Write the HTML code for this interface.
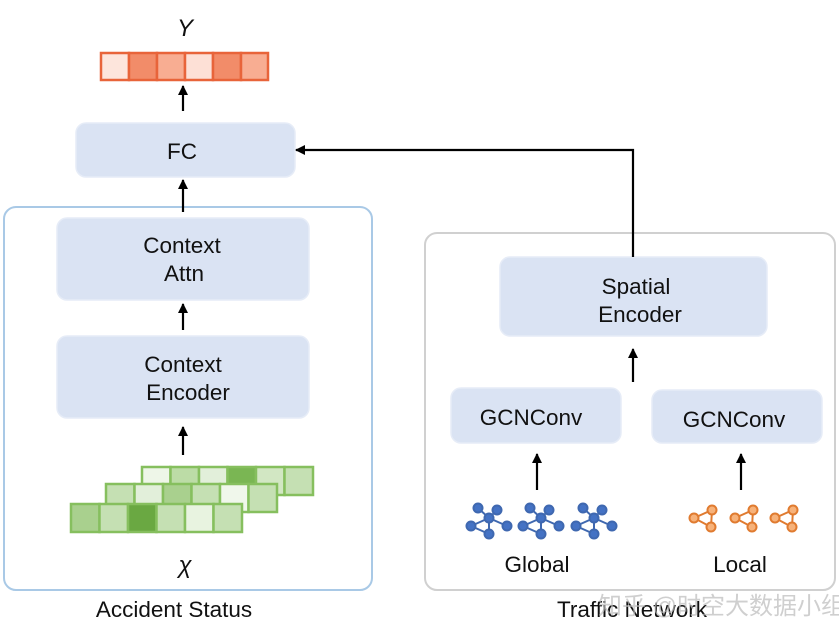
<!DOCTYPE html>
<html><head><meta charset="utf-8"><style>
html,body{margin:0;padding:0;background:#fff;}
svg{display:block;}
text{font-family:"Liberation Sans","Noto Sans CJK SC",sans-serif;fill:#111;}
</style></head><body>
<svg width="839" height="640" viewBox="0 0 839 640" xmlns="http://www.w3.org/2000/svg">
<defs>
<marker id="ah" markerWidth="10" markerHeight="10" refX="9" refY="5" orient="auto" markerUnits="userSpaceOnUse">
<path d="M0,0 L10,5 L0,10 Z" fill="#000"/></marker>
</defs>
<rect x="4" y="207" width="368" height="383" rx="12" fill="#fff" stroke="#a9c9e6" stroke-width="2"/>
<rect x="425" y="233" width="410" height="357" rx="12" fill="#fff" stroke="#d0d0d0" stroke-width="2"/>
<text x="185" y="36" font-size="24" font-style="italic" text-anchor="middle" font-family="Liberation Serif">Y</text>
<g stroke="#e8643a" stroke-width="2.5">
<rect x="101" y="53" width="28" height="27" fill="#fde5dc"/>
<rect x="129" y="53" width="28" height="27" fill="#f28c69"/>
<rect x="157" y="53" width="28" height="27" fill="#f8ad92"/>
<rect x="185" y="53" width="28" height="27" fill="#fde0d6"/>
<rect x="213" y="53" width="28" height="27" fill="#f28c69"/>
<rect x="241" y="53" width="27" height="27" fill="#f8ad92"/>
</g>
<g fill="#dae3f3" stroke="#e6ecf7" stroke-width="1.5">
<rect x="76" y="123" width="219" height="54" rx="10"/>
<rect x="57" y="218" width="252" height="82" rx="10"/>
<rect x="57" y="336" width="252" height="82" rx="10"/>
<rect x="500" y="257" width="267" height="79" rx="10"/>
<rect x="451" y="388" width="170" height="55" rx="10"/>
<rect x="652" y="390" width="170" height="53" rx="10"/>
</g>
<g font-size="22.5" text-anchor="middle">
<text x="182" y="159">FC</text>
<text x="182" y="253">Context</text>
<text x="184" y="281">Attn</text>
<text x="183" y="372">Context</text>
<text x="188" y="400">Encoder</text>
<text x="636" y="294">Spatial</text>
<text x="640" y="322">Encoder</text>
<text x="531" y="425">GCNConv</text>
<text x="734" y="427">GCNConv</text>
<text x="537" y="572">Global</text>
<text x="740" y="572">Local</text>
<text x="174" y="617">Accident Status</text>
<text x="632" y="617">Traffic Network</text>
</g>
<text x="185" y="573" font-size="24" font-style="italic" text-anchor="middle" font-family="Liberation Serif">χ</text>
<text x="598" y="614" font-size="24" style="fill:#bbbbbb;opacity:0.7">知乎 @时空大数据小组</text>
<g stroke="#000" stroke-width="2.2" fill="none" marker-end="url(#ah)">
<line x1="183" y1="111" x2="183" y2="86"/>
<line x1="183" y1="212" x2="183" y2="180"/>
<line x1="183" y1="330" x2="183" y2="304"/>
<line x1="183" y1="455" x2="183" y2="427"/>
<line x1="633" y1="382" x2="633" y2="349"/>
<line x1="537" y1="490" x2="537" y2="454"/>
<line x1="741" y1="490" x2="741" y2="454"/>
<polyline points="633,257 633,150 296,150"/>
</g>
<g stroke="#86bf5e" stroke-width="2.5">
<rect x="142" y="467" width="28.5" height="28" fill="#eef6e8"/>
<rect x="170.5" y="467" width="28.5" height="28" fill="#bcdca6"/>
<rect x="199" y="467" width="28.5" height="28" fill="#e2efda"/>
<rect x="227.5" y="467" width="28.5" height="28" fill="#7ab653"/>
<rect x="256" y="467" width="28.5" height="28" fill="#d2e7c3"/>
<rect x="284.5" y="467" width="28.5" height="28" fill="#c5e0b3"/>
<rect x="106" y="484" width="28.5" height="28" fill="#c5e0b3"/>
<rect x="134.5" y="484" width="28.5" height="28" fill="#e2efda"/>
<rect x="163" y="484" width="28.5" height="28" fill="#a9d08e"/>
<rect x="191.5" y="484" width="28.5" height="28" fill="#c5e0b3"/>
<rect x="220" y="484" width="28.5" height="28" fill="#f0f7eb"/>
<rect x="248.5" y="484" width="28.5" height="28" fill="#c5e0b3"/>
<rect x="71" y="504" width="28.5" height="28" fill="#a9d08e"/>
<rect x="99.5" y="504" width="28.5" height="28" fill="#c5e0b3"/>
<rect x="128" y="504" width="28.5" height="28" fill="#6aa842"/>
<rect x="156.5" y="504" width="28.5" height="28" fill="#c5e0b3"/>
<rect x="185" y="504" width="28.5" height="28" fill="#e8f3e0"/>
<rect x="213.5" y="504" width="28.5" height="28" fill="#c5e0b3"/>
</g>
<g id="g1" stroke="#3f68b0" stroke-width="2" fill="#4472c4">
<line x1="489" y1="518" x2="478" y2="508"/><line x1="489" y1="518" x2="497" y2="510"/>
<line x1="489" y1="518" x2="507" y2="526"/><line x1="489" y1="518" x2="489" y2="534"/>
<line x1="489" y1="518" x2="471" y2="526"/><line x1="471" y1="526" x2="489" y2="534"/>
<circle cx="478" cy="508" r="4.5"/><circle cx="497" cy="510" r="4.5"/><circle cx="489" cy="518" r="4.5"/>
<circle cx="471" cy="526" r="4.5"/><circle cx="507" cy="526" r="4.5"/><circle cx="489" cy="534" r="4.5"/>
</g>
<use href="#g1" x="52"/>
<use href="#g1" x="105"/>
<g id="l1" stroke="#e07b30" stroke-width="2" fill="#f7b27a">
<polygon points="694,518 712,510 711,527" fill="none"/>
<circle cx="694" cy="518" r="4.5"/><circle cx="712" cy="510" r="4.5"/><circle cx="711" cy="527" r="4.5"/>
</g>
<use href="#l1" x="41"/>
<use href="#l1" x="81"/>
</svg>
</body></html>
